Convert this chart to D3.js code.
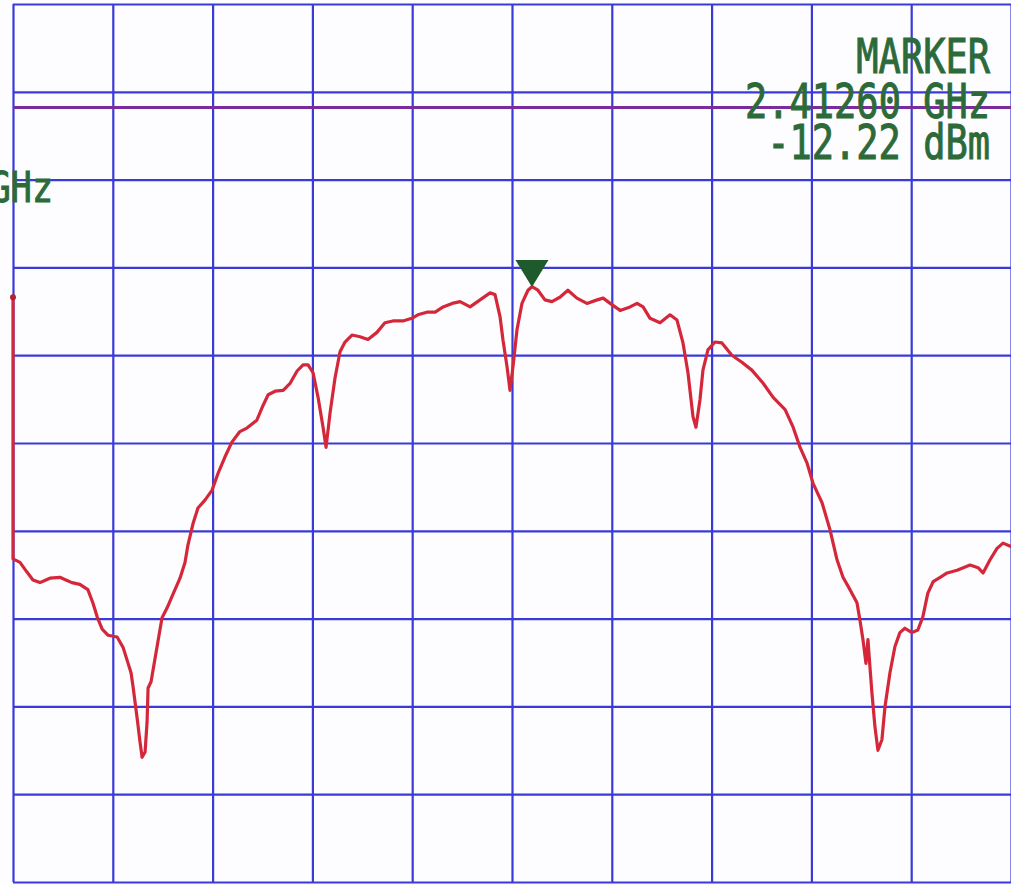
<!DOCTYPE html>
<html>
<head>
<meta charset="utf-8">
<script src="https://cdn.jsdelivr.net/npm/d3@7"></script>
<style>
  body { margin: 0; background: #fff; }
  .grid line { stroke: #3a3ad8; stroke-width: 2.2; }
  .grid path { display: none; }
  .readout { font-family: "DejaVu Sans Mono", monospace; fill: #2c6a3a; stroke: #2c6a3a; stroke-width: 0.8; }
</style>
</head>
<body>
<div id="chart"></div>
<script>
// Spectrum analyser screen: centre 2.412 GHz, 3 MHz/div, ref +20 dBm, 10 dB/div
const freqTicks = [2397, 2400, 2403, 2406, 2409, 2412, 2415, 2418, 2421, 2424, 2427]; // MHz
const levelTicks = [20, 10, 0, -10, -20, -30, -40, -50, -60, -70, -80]; // dBm

// trace (MHz, dBm)
const traceFreq = [
  2397.00, 2397.00, 2397.21, 2397.42, 2397.60, 2397.81, 2397.99, 2398.11, 2398.41, 2398.59,
  2398.77, 2399.01, 2399.25, 2399.40, 2399.53, 2399.68, 2399.86, 2400.13, 2400.31, 2400.46,
  2400.55, 2400.61, 2400.73, 2400.82, 2400.88, 2400.97, 2401.03, 2401.06, 2401.15, 2401.33,
  2401.48, 2401.63, 2401.81, 2402.02, 2402.17, 2402.26, 2402.41, 2402.56, 2402.77, 2402.98,
  2403.16, 2403.37, 2403.58, 2403.82, 2404.03, 2404.33, 2404.52, 2404.67, 2404.88, 2405.12,
  2405.33, 2405.54, 2405.72, 2405.87, 2406.02, 2406.17, 2406.32, 2406.41, 2406.53, 2406.68,
  2406.83, 2406.98, 2407.19, 2407.43, 2407.67, 2407.94, 2408.18, 2408.42, 2408.72, 2408.99,
  2409.17, 2409.44, 2409.69, 2409.93, 2410.20, 2410.44, 2410.74, 2411.04, 2411.34, 2411.49,
  2411.64, 2411.73, 2411.85, 2411.94, 2412.03, 2412.15, 2412.30, 2412.48, 2412.60, 2412.78,
  2412.99, 2413.20, 2413.44, 2413.68, 2413.95, 2414.25, 2414.56, 2414.74, 2414.95, 2415.25,
  2415.55, 2415.76, 2415.94, 2416.15, 2416.45, 2416.75, 2416.96, 2417.14, 2417.29, 2417.44,
  2417.53, 2417.65, 2417.74, 2417.89, 2418.10, 2418.31, 2418.61, 2418.91, 2419.21, 2419.55,
  2419.85, 2420.21, 2420.45, 2420.66, 2420.87, 2421.05, 2421.32, 2421.56, 2421.77, 2421.95,
  2422.16, 2422.37, 2422.46, 2422.55, 2422.64, 2422.70, 2422.76, 2422.82, 2422.91, 2423.00,
  2423.12, 2423.21, 2423.36, 2423.51, 2423.66, 2423.81, 2424.02, 2424.20, 2424.35, 2424.50,
  2424.66, 2424.87, 2425.08, 2425.38, 2425.77, 2426.01, 2426.16, 2426.37, 2426.58, 2426.76,
  2427.00
];
const traceLevel = [
  -13.4, -43.2, -43.6, -44.7, -45.6, -45.9, -45.6, -45.4, -45.3, -45.6,
  -45.9, -46.1, -46.7, -48.2, -49.8, -51.2, -51.9, -52.1, -53.3, -55.1,
  -56.2, -57.8, -61.3, -64.1, -65.8, -65.2, -61.8, -57.9, -57.2, -53.2,
  -49.9, -48.8, -47.2, -45.4, -43.6, -41.6, -39.2, -37.4, -36.5, -35.4,
  -33.5, -31.6, -29.9, -28.7, -28.3, -27.4, -25.7, -24.5, -24.1, -24.0,
  -23.2, -21.8, -21.1, -21.1, -22.0, -24.8, -28.2, -30.5, -26.6, -22.6,
  -19.6, -18.5, -17.7, -17.9, -18.2, -17.4, -16.3, -16.1, -16.1, -15.8,
  -15.4, -15.1, -15.1, -14.5, -14.1, -13.9, -14.5, -13.7, -12.9, -13.1,
  -15.6, -18.3, -21.3, -24.0, -21.3, -17.1, -14.1, -12.6, -12.2, -12.6,
  -13.7, -13.9, -13.4, -12.6, -13.5, -14.1, -13.7, -13.5, -14.1, -14.9,
  -14.5, -14.1, -14.5, -15.8, -16.3, -15.4, -16.0, -18.6, -22.0, -27.0,
  -28.2, -25.1, -21.7, -19.4, -18.5, -18.6, -20.0, -20.8, -21.7, -23.2,
  -24.8, -26.2, -28.2, -30.5, -32.3, -34.6, -36.8, -39.9, -43.3, -45.3,
  -46.7, -48.2, -50.2, -52.4, -55.1, -52.4, -55.5, -58.5, -62.3, -65.0,
  -63.8, -60.1, -56.2, -53.2, -51.6, -51.1, -51.6, -51.3, -49.8, -47.1,
  -45.8, -45.3, -44.8, -44.5, -43.9, -44.2, -44.8, -43.3, -42.0, -41.4,
  -41.8
];

const markerFreq = 2412.60;   // MHz
const markerLevel = -12.22;   // dBm
const displayLine = 8.2;      // dBm
const readoutLines = ["MARKER", "2.41260 GHz", "-12.22 dBm"];

const width = 1011, height = 885;
const plotLeft = 13, plotRight = 1011, plotTop = 4, plotBottom = 882;

const svg = d3.select("#chart").append("svg")
  .attr("width", width)
  .attr("height", height)
  .style("background", "#fdfdff");

const x = d3.scaleLinear().domain([2397, 2427]).range([plotLeft, plotRight]);
const y = d3.scaleLinear().domain([-80, 20]).range([plotBottom, plotTop]);

// graticule
svg.append("g").attr("class", "grid")
  .attr("transform", `translate(0,${plotTop})`)
  .call(d3.axisTop(x).tickValues(freqTicks).tickSize(-(plotBottom - plotTop)).tickFormat(""));
svg.append("g").attr("class", "grid")
  .attr("transform", `translate(${plotLeft},0)`)
  .call(d3.axisLeft(y).tickValues(levelTicks).tickSize(-(plotRight - plotLeft)).tickFormat(""));

// display line
svg.append("line")
  .attr("x1", x(2397)).attr("x2", x(2427))
  .attr("y1", y(displayLine)).attr("y2", y(displayLine))
  .attr("stroke", "#7a2c9e").attr("stroke-width", 3);

// trace
const trace = traceFreq.map((f, i) => [f, traceLevel[i]]);
const line = d3.line().x(d => x(d[0])).y(d => y(d[1]));
svg.append("path")
  .datum(trace)
  .attr("d", line)
  .attr("fill", "none")
  .attr("stroke", "#d4283a")
  .attr("stroke-width", 3.2)
  .attr("stroke-linejoin", "round")
  .attr("stroke-linecap", "round");
svg.append("circle")
  .attr("cx", x(trace[0][0])).attr("cy", y(trace[0][1]))
  .attr("r", 3).attr("fill", "#b8202e");

// marker triangle
const mx = x(markerFreq), my = y(markerLevel);
svg.append("path")
  .attr("d", `M${mx - 16.5},${my - 27}L${mx + 16.5},${my - 27}L${mx},${my}Z`)
  .attr("fill", "#1f5a2c");

// marker readout
const baselines = [73, 118, 159];
readoutLines.forEach((t, i) => {
  svg.append("text")
    .attr("class", "readout")
    .attr("transform", `translate(990,${baselines[i]}) scale(1,1.3)`)
    .attr("text-anchor", "end")
    .attr("font-size", 37)
    .text(t);
});

// clipped annotation at left edge
svg.append("text")
  .attr("class", "readout")
  .attr("transform", `translate(53,202) scale(1,1.2)`)
  .attr("text-anchor", "end")
  .attr("font-size", 35)
  .text("GHz");
</script>
</body>
</html>
